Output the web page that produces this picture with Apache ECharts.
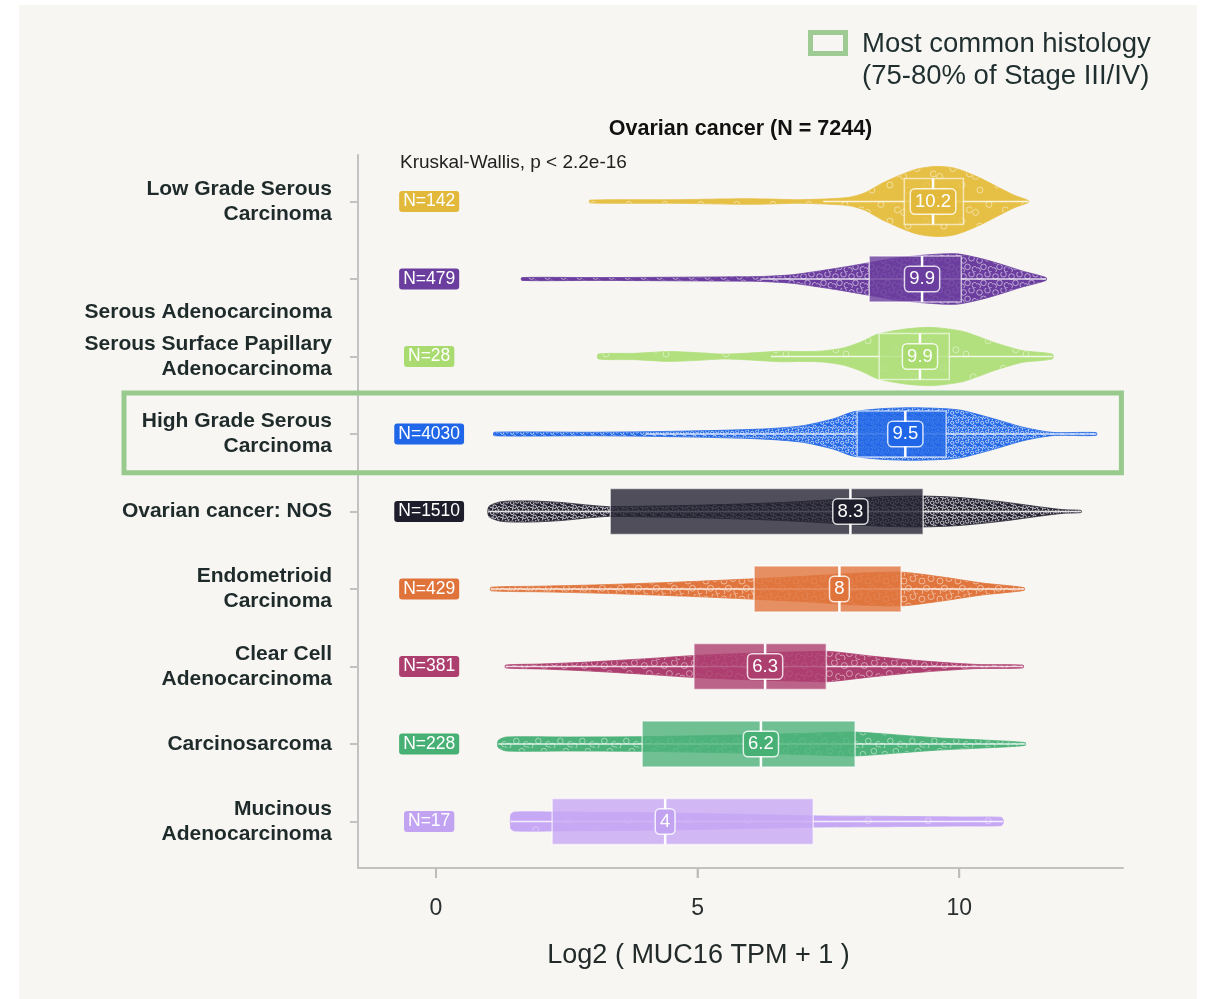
<!DOCTYPE html>
<html><head><meta charset="utf-8">
<script src="https://cdn.jsdelivr.net/npm/echarts@6/dist/echarts.min.js"></script>
<style>
html,body{margin:0;padding:0;background:#ffffff;}
#card{position:absolute;left:19px;top:5px;width:1178px;height:994px;background:#f7f6f2;}
#main{position:absolute;left:0;top:0;width:1208px;height:999px;}
</style></head><body><div id="card"></div><div id="main"></div>
<script>
// ---------------- data ----------------
const categories = [
  'Low Grade Serous\nCarcinoma',
  'Serous Adenocarcinoma',
  'Serous Surface Papillary\nAdenocarcinoma',
  'High Grade Serous\nCarcinoma',
  'Ovarian cancer: NOS',
  'Endometrioid\nCarcinoma',
  'Clear Cell\nAdenocarcinoma',
  'Carcinosarcoma',
  'Mucinous\nAdenocarcinoma'
];
const nCounts = [142, 479, 28, 4030, 1510, 429, 381, 228, 17];
const medianLabels = ['10.2', '9.9', '9.9', '9.5', '8.3', '8', '6.3', '6.2', '4'];
const q1Values     = [8.95, 8.28, 8.47, 8.05, 3.33, 6.08, 4.93, 3.94, 2.22];
const medianValues = [9.50, 9.29, 9.25, 8.97, 7.92, 7.71, 6.29, 6.21, 4.38];
const q3Values     = [10.08, 10.04, 9.81, 9.75, 9.31, 8.89, 7.46, 8.01, 7.21];
const whiskerLo    = [7.4, 6.2, 6.4, 4.0, 1.0, 1.05, 1.33, 1.19, 1.43];
const whiskerHi    = [11.32, 11.66, 11.78, 12.62, 12.33, 11.24, 11.22, 11.26, 10.84];
// violin density profiles: [x, relative density]
const densLowGrade = [[2.94,0.04],[4.5,0.05],[5.9,0.08],[6.4,0.07],[6.9,0.05],[7.4,0.07],[7.9,0.12],[8.2,0.25],[8.5,0.5],[8.85,0.74],[9.2,0.93],[9.55,1.0],[9.85,0.97],[10.1,0.86],[10.44,0.64],[10.78,0.38],[11.05,0.18],[11.32,0.03]];
const densSerousAdeno = [[1.64,0.04],[3.0,0.04],[4.5,0.05],[5.5,0.06],[6.2,0.07],[6.8,0.12],[7.33,0.23],[7.8,0.34],[8.26,0.46],[8.8,0.6],[9.4,0.69],[9.95,0.72],[10.45,0.57],[10.8,0.42],[11.2,0.23],[11.66,0.04]];
const densSerousSurface = [[3.1,0.07],[3.8,0.09],[4.45,0.14],[5.0,0.11],[5.5,0.07],[6.0,0.1],[6.6,0.15],[7.0,0.14],[7.4,0.16],[7.8,0.25],[8.13,0.42],[8.45,0.64],[9.0,0.79],[9.5,0.83],[10.06,0.72],[10.4,0.55],[10.67,0.4],[11.2,0.17],[11.78,0.07]];
const densHighGrade = [[1.11,0.05],[3.0,0.05],[4.68,0.08],[6.2,0.14],[6.98,0.23],[7.59,0.43],[7.97,0.63],[8.5,0.72],[9.1,0.75],[9.75,0.72],[10.06,0.67],[10.67,0.43],[11.2,0.2],[11.6,0.08],[11.85,0.04],[12.62,0.04]];
const densNOS = [[1.01,0.14],[1.25,0.28],[1.8,0.3],[2.37,0.26],[3.0,0.17],[3.3,0.14],[5.0,0.18],[6.5,0.25],[7.5,0.33],[8.5,0.42],[9.3,0.44],[10.0,0.4],[10.8,0.28],[11.6,0.12],[12.0,0.05],[12.33,0.03]];
const densEndometrioid = [[1.05,0.05],[2.0,0.08],[3.14,0.12],[4.68,0.2],[6.06,0.29],[7.0,0.36],[8.0,0.45],[8.9,0.48],[9.68,0.34],[10.44,0.17],[11.24,0.04]];
const densClearCell = [[1.33,0.04],[2.0,0.07],[2.81,0.12],[4.1,0.23],[4.9,0.31],[6.0,0.38],[7.0,0.42],[7.52,0.43],[8.36,0.29],[9.2,0.17],[10.3,0.06],[11.22,0.04]];
const densCarcinosarcoma = [[1.19,0.1],[1.35,0.2],[2.5,0.2],[3.94,0.21],[5.5,0.25],[7.0,0.3],[8.0,0.34],[8.8,0.26],[9.64,0.17],[10.5,0.11],[11.26,0.04]];
const densMucinous = [[1.43,0.2],[1.5,0.27],[2.3,0.27],[4.0,0.25],[6.0,0.2],[7.3,0.16],[8.5,0.15],[10.0,0.13],[10.8,0.12],[10.84,0.05]];
const densities = [densLowGrade, densSerousAdeno, densSerousSurface, densHighGrade, densNOS, densEndometrioid, densClearCell, densCarcinosarcoma, densMucinous];
const xTickValues = [0, 5, 10];
const highlightRow = 3;

// ---------------- styles ----------------
const colors = ['#e6bf45', '#6a3d9e', '#b2e07e', '#2368e6', '#262433', '#e0763e', '#ad3f6f', '#4db37a', '#c7a8f4'];
const labelColors = ['#e3b93c', '#6a3d9e', '#a9db70', '#1f66e8', '#1e1d2b', '#df733a', '#ad3f6f', '#47b074', '#c2a3f2'];
const dotStyle = [ // spacing, radius, alpha
  [18,3,0.55],[8,2.8,0.6],[30,3,0.5],[5,1.6,0.75],[5,1.8,0.8],[9,3,0.55],[10,3,0.5],[11,2.8,0.5],[30,3,0.4]
];
const FONT = '"Liberation Sans", Arial, Helvetica, sans-serif';
const AXIS_GREY = '#c2c2c2';
const N_LABEL_X = -0.13;
const DENS_SCALE = 0.452;   // fraction of row spacing for density 1
const BOX_HALF = 0.297;     // fraction of row spacing
const Y_MIN = 0.4, Y_MAX = 9.6;

function makePattern(color, s, r, a) {
  const size = s * 2;
  const c = document.createElement('canvas');
  c.width = size; c.height = size;
  const ctx = c.getContext('2d');
  ctx.fillStyle = color; ctx.fillRect(0, 0, size, size);
  ctx.strokeStyle = 'rgba(255,255,255,' + a + ')';
  ctx.lineWidth = 0.9;
  const pos = [[0.22,0.28],[0.72,0.14],[0.47,0.68],[0.93,0.83],[0.1,0.9]];
  pos.forEach(p => { ctx.beginPath(); ctx.arc(p[0]*size, p[1]*size, r, 0, Math.PI*2); ctx.stroke(); });
  return c;
}
const patterns = colors.map((c, i) => makePattern(c, dotStyle[i][0], dotStyle[i][1], dotStyle[i][2]));

function renderItem(params, api) {
  const i = api.value(0);
  const yv = i + 1;
  const band = api.size([0, 1])[1];
  const cy = api.coord([0, yv])[1];
  const dens = densities[i];
  const upper = [], lower = [];
  dens.forEach(p => {
    const x = api.coord([p[0], yv])[0];
    const h = p[1] * DENS_SCALE * band;
    upper.push([x, cy - h]);
    lower.unshift([x, cy + h]);
  });
  const bh = BOX_HALF * band;
  const x1 = api.coord([q1Values[i], yv])[0];
  const x3 = api.coord([q3Values[i], yv])[0];
  const xm = api.coord([medianValues[i], yv])[0];
  const wl = api.coord([whiskerLo[i], yv])[0];
  const wh = api.coord([whiskerHi[i], yv])[0];
  const xn = api.coord([N_LABEL_X, yv])[0];
  return {
    type: 'group',
    children: [
      { type: 'polygon', shape: { points: upper.concat(lower), smooth: 0.25 },
        style: { fill: { image: patterns[i], repeat: 'repeat' }, stroke: colors[i], lineWidth: 0.8 } },
      { type: 'line', shape: { x1: wl, y1: cy, x2: wh, y2: cy },
        style: { stroke: 'rgba(255,255,255,0.8)', lineWidth: 1.3 } },
      { type: 'rect', shape: { x: x1, y: cy - bh, width: x3 - x1, height: 2 * bh },
        style: { fill: colors[i], opacity: 0.8, stroke: 'rgba(255,255,255,0.75)', lineWidth: 1.5 } },
      { type: 'line', shape: { x1: xm, y1: cy - bh, x2: xm, y2: cy + bh },
        style: { stroke: '#ffffff', lineWidth: 2.5 } },
      { type: 'text', x: xm, y: cy,
        style: { text: medianLabels[i], fill: '#ffffff', fontSize: 18.5, fontFamily: FONT,
          align: 'center', verticalAlign: 'middle', backgroundColor: labelColors[i],
          borderColor: 'rgba(255,255,255,0.8)', borderWidth: 1.5, borderRadius: 4, padding: [3, 4, 2, 4] } },
      { type: 'text', x: xn, y: cy,
        style: { text: 'N=' + nCounts[i], fill: '#ffffff', fontSize: 17.5, fontFamily: FONT,
          align: 'center', verticalAlign: 'middle', backgroundColor: labelColors[i],
          borderRadius: 3, padding: [2, 4, 1, 4] } }
    ]
  };
}

const rowValues = categories.map((c, i) => [i]);
const rowTicks = categories.map((c, i) => i + 1);
const labelStyle = { fontSize: 21, fontWeight: 'bold', color: '#1f2b2b', fontFamily: FONT, lineHeight: 25 };

const chart = echarts.init(document.getElementById('main'), null, { renderer: 'canvas' });
chart.setOption({
  backgroundColor: 'transparent',
  animation: false,
  grid: { left: 358, right: 85, top: 155, bottom: 131 },
  xAxis: {
    type: 'value', min: -1.49, max: 13.13,
    name: 'Log2 ( MUC16 TPM + 1 )', nameLocation: 'middle', nameGap: 74,
    nameTextStyle: { fontSize: 27, color: '#222a2a', fontFamily: FONT, padding: [0, 84, 0, 0] },
    axisLine: { show: true, onZero: false, lineStyle: { color: AXIS_GREY, width: 2 } },
    axisTick: { show: true, customValues: xTickValues, length: 10, lineStyle: { color: AXIS_GREY, width: 2 } },
    axisLabel: { customValues: xTickValues, margin: 29, fontSize: 23, color: '#2a2f2f', fontFamily: FONT },
    splitLine: { show: false }
  },
  yAxis: {
    type: 'value', inverse: true, min: Y_MIN, max: Y_MAX,
    axisLine: { show: true, onZero: false, lineStyle: { color: AXIS_GREY, width: 2 } },
    axisTick: { show: true, customValues: rowTicks, length: 8, lineStyle: { color: AXIS_GREY, width: 2 } },
    axisLabel: Object.assign({
      customValues: rowTicks, margin: 26, align: 'right',
      formatter: function (v) {
        const i = Math.round(v) - 1;
        if (i === 1) return '{shift|' + categories[i] + '}';
        return categories[i];
      },
      rich: { shift: Object.assign({ padding: [66, 0, 0, 0] }, labelStyle) }
    }, labelStyle),
    splitLine: { show: false }
  },
  series: [{
    type: 'custom', renderItem: renderItem, data: rowValues,
    encode: { x: -1, y: -1 }, clip: false, silent: true
  }]
});

const yTop = chart.convertToPixel({ yAxisIndex: 0 }, highlightRow + 1 - 0.53);
const yBot = chart.convertToPixel({ yAxisIndex: 0 }, highlightRow + 1 + 0.5);
const xRight = chart.convertToPixel({ xAxisIndex: 0 }, 13.1);
const axisY = chart.convertToPixel({ yAxisIndex: 0 }, Y_MAX);
const tickGraphics = xTickValues.map(v => {
  const px = chart.convertToPixel({ xAxisIndex: 0 }, v);
  return { type: 'line', shape: { x1: px, y1: axisY, x2: px, y2: axisY + 10 },
    style: { stroke: '#bdbdbd', lineWidth: 2 }, z: 20 };
});
chart.setOption({
  graphic: [
    { type: 'rect', shape: { x: 124, y: yTop, width: xRight - 124, height: yBot - yTop },
      style: { fill: 'none', stroke: '#98ca8e', lineWidth: 5 }, z: 10 },
    { type: 'rect', shape: { x: 810.5, y: 32.5, width: 35, height: 21 },
      style: { fill: 'none', stroke: '#9dcb93', lineWidth: 5 } },
    { type: 'text', x: 862, y: 44,
      style: { text: 'Most common histology', fontSize: 27.5, fill: '#1f2e2e', fontFamily: FONT, verticalAlign: 'middle' } },
    { type: 'text', x: 862, y: 76,
      style: { text: '(75-80% of Stage III/IV)', fontSize: 27.5, fill: '#1f2e2e', fontFamily: FONT, verticalAlign: 'middle' } },
    { type: 'text', x: 740.5, y: 129,
      style: { text: 'Ovarian cancer (N = 7244)', fontSize: 21.5, fontWeight: 'bold', fill: '#111111', fontFamily: FONT, align: 'center', verticalAlign: 'middle' } },
    { type: 'text', x: 400, y: 163,
      style: { text: 'Kruskal-Wallis, p < 2.2e-16', fontSize: 19, fill: '#222222', fontFamily: FONT, verticalAlign: 'middle' } }
  ].concat(tickGraphics)
});
</script></body></html>
